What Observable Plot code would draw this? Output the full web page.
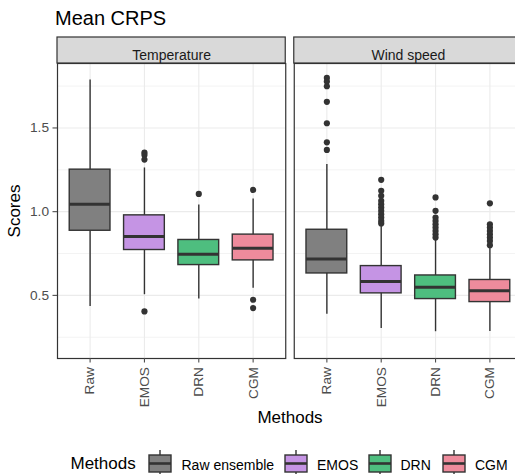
<!DOCTYPE html>
<html><head><meta charset="utf-8">
<script src="https://cdn.jsdelivr.net/npm/d3@7"></script>
<script src="https://cdn.jsdelivr.net/npm/@observablehq/plot@0.6"></script>
<style>
html,body{margin:0;padding:0;background:#fff;overflow:hidden;}
body{font-family:"Liberation Sans",Arial,Helvetica,sans-serif;}
#wrap{position:relative;width:530px;height:474px;}
#title{position:absolute;left:55px;top:8px;font-size:20px;line-height:20px;color:#000;white-space:nowrap;}
#chart{position:absolute;left:0;top:33px;}
.lg{position:absolute;white-space:nowrap;color:#000;}
.lgt{font-size:17px;line-height:17px;}
.lgl{font-size:14px;line-height:14px;}
.key{position:absolute;}
#chart svg [aria-label="y-axis tick"], #chart svg [aria-label="x-axis tick"]{stroke:#333;stroke-width:1.1px;}
</style></head>
<body>
<div id="wrap">
  <div id="title">Mean CRPS</div>
  <div id="chart"></div>
  <div id="legend"></div>
</div>
<script>
// ---- data ----
const panels = ["Temperature", "Wind speed"];
const categories = ["Raw", "EMOS", "DRN", "CGM"];
const legendLabels = ["Raw ensemble", "EMOS", "DRN", "CGM"];
const colors = ["#808080", "#C594E4", "#4EBE7F", "#EE8B9C"];
const majorTicks = [0.5, 1.0, 1.5];
const minorTicks = [0.25, 0.75, 1.25, 1.75];
const yMin = 0.123, yMax = 1.885;

// Temperature box statistics (Raw, EMOS, DRN, CGM)
const tempLower  = [0.434, 0.504, 0.478, 0.542];
const tempQ1     = [0.886, 0.771, 0.681, 0.709];
const tempMedian = [1.044, 0.852, 0.745, 0.781];
const tempQ3     = [1.251, 0.978, 0.831, 0.863];
const tempUpper  = [1.787, 1.261, 1.040, 1.076];
const tempOutliers = [
  [],
  [1.353, 1.339, 1.311, 0.404],
  [1.106],
  [1.130, 0.474, 0.424]
];

// Wind speed box statistics
const windLower  = [0.388, 0.302, 0.283, 0.284];
const windQ1     = [0.631, 0.512, 0.478, 0.460];
const windMedian = [0.717, 0.583, 0.548, 0.528];
const windQ3     = [0.892, 0.675, 0.619, 0.592];
const windUpper  = [1.281, 0.915, 0.830, 0.785];
const windOutliers = [
  [1.799, 1.777, 1.749, 1.656, 1.528, 1.414, 1.369],
  [1.190, 1.125, 1.095, 1.065, 1.045, 1.025, 1.005, 0.985, 0.965, 0.945, 0.930],
  [1.085, 1.005, 0.965, 0.945, 0.925, 0.905, 0.885, 0.865, 0.845],
  [1.050, 0.925, 0.905, 0.885, 0.865, 0.845, 0.825, 0.800]
];

// ---- build tables ----
const stats = [];
const outliers = [];
const src = [
  [tempLower, tempQ1, tempMedian, tempQ3, tempUpper, tempOutliers],
  [windLower, windQ1, windMedian, windQ3, windUpper, windOutliers]
];
panels.forEach((p, i) => {
  const [lo, q1, md, q3, up, out] = src[i];
  categories.forEach((c, j) => {
    stats.push({panel: p, method: c, lower: lo[j], q1: q1[j], median: md[j], q3: q3[j], upper: up[j]});
    out[j].forEach(v => outliers.push({panel: p, method: c, value: v}));
  });
});

const FONT = '"Liberation Sans", Arial, Helvetica, sans-serif';
const ink = "#333333";

const plot = Plot.plot({
  width: 530, height: 407,
  marginTop: 30, marginBottom: 82, marginLeft: 57, marginRight: 8,
  style: {fontFamily: FONT, fontSize: "13px", color: "#4d4d4d", background: "transparent", overflow: "visible"},
  fx: {domain: panels, paddingInner: 0.036, paddingOuter: 0, round: false},
  x: {domain: categories, paddingInner: 0.25, paddingOuter: 0.225, round: false},
  y: {domain: [yMin, yMax]},
  color: {domain: categories, range: colors},
  marks: [
    Plot.ruleY(minorTicks, {stroke: "#ebebeb", strokeWidth: 0.6}),
    Plot.ruleY(majorTicks, {stroke: "#ebebeb", strokeWidth: 1.1}),
    Plot.ruleX(categories, {stroke: "#ebebeb", strokeWidth: 1.1}),
    Plot.ruleX(stats, {fx: "panel", x: "method", y1: "lower", y2: "upper", stroke: ink, strokeWidth: 1.4}),
    Plot.barY(stats, {fx: "panel", x: "method", y1: "q1", y2: "q3", fill: "method", stroke: ink, strokeWidth: 1.4}),
    Plot.tickY(stats, {fx: "panel", x: "method", y: "median", stroke: ink, strokeWidth: 3}),
    Plot.dot(outliers, {fx: "panel", x: "method", y: "value", r: 3.1, fill: ink, stroke: "none"}),
    Plot.frame({stroke: ink, strokeWidth: 1.2}),
    Plot.rect(panels, {fx: d => d, y1: yMax, y2: yMax, insetTop: -26, fill: "#d9d9d9", stroke: ink, strokeWidth: 1.2}),
    Plot.text(panels, {fx: d => d, text: d => d, frameAnchor: "top", dy: -13, fontSize: 14, fill: "#1a1a1a"}),
    Plot.axisY({ticks: majorTicks, tickFormat: ".1f", tickSize: 4.5, tickPadding: 4, label: null, fontSize: 13.7, fill: "#4d4d4d"}),
    Plot.axisY({ticks: [], tickSize: 0, label: "Scores", labelAnchor: "center", labelArrow: "none", labelOffset: 50, fontSize: 17, fill: "#000"}),
    Plot.axisX({tickRotate: -90, tickSize: 4.5, tickPadding: 4, label: null, fontSize: 13.7, fill: "#4d4d4d"}),
    Plot.axisFx({anchor: "bottom", tickSize: 0, tickFormat: () => "", label: "Methods", labelAnchor: "center", labelArrow: "none", labelOffset: 64, fontSize: 17, fill: "#000"})
  ]
});
document.getElementById("chart").appendChild(plot);

// ---- legend ----
const legend = document.getElementById("legend");
function addText(cls, txt, left, top) {
  const d = document.createElement("div");
  d.className = "lg " + cls;
  d.textContent = txt;
  d.style.left = left + "px";
  d.style.top = top + "px";
  legend.appendChild(d);
}
addText("lgt", "Methods", 70.5, 455);
const keyX = [149.3, 285, 369.3, 443.3];
const labelX = [181.5, 317, 400.5, 475];
const ns = "http://www.w3.org/2000/svg";
categories.forEach((c, i) => {
  const s = document.createElementNS(ns, "svg");
  s.setAttribute("width", 24); s.setAttribute("height", 28);
  s.setAttribute("class", "key");
  s.style.left = (keyX[i] - 1) + "px"; s.style.top = "450px";
  s.innerHTML =
    `<line x1="12" x2="12" y1="0" y2="28" stroke="${ink}" stroke-width="1.4"/>` +
    `<rect x="1" y="5" width="22" height="17" fill="${colors[i]}" stroke="${ink}" stroke-width="1.4"/>` +
    `<line x1="1" x2="23" y1="13.5" y2="13.5" stroke="${ink}" stroke-width="2.6"/>`;
  legend.appendChild(s);
  addText("lgl", legendLabels[i], labelX[i], 458);
});
</script>
</body></html>
